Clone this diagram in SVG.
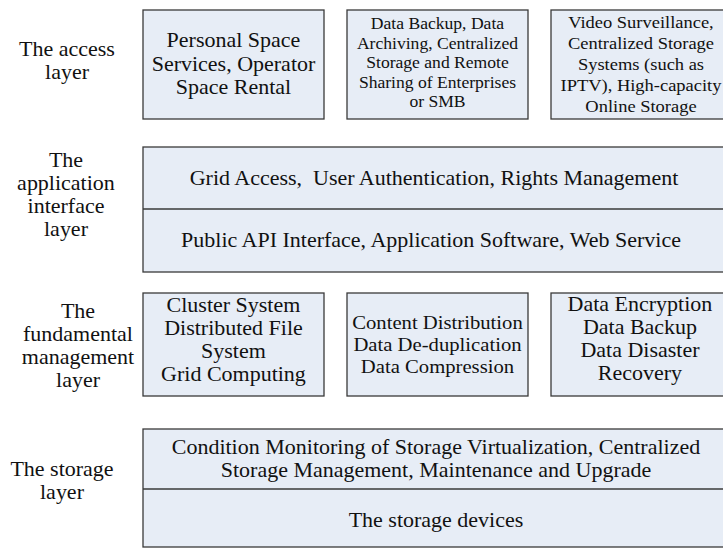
<svg xmlns="http://www.w3.org/2000/svg" width="723" height="548" viewBox="0 0 723 548">
<style>
.box{fill:#e7edf6;stroke:#3a3a3a;stroke-width:1.3}
.div{stroke:#3a3a3a;stroke-width:1.3}
text{font-family:"Liberation Serif","Times New Roman",serif;fill:#111;text-anchor:middle}
.x{transform-box:fill-box;transform-origin:center;transform:scaleX(1.1)}
.t{font-size:20px}
.s{font-size:16px}
.m{font-size:16.8px}
.c{font-size:18.8px}
</style>
<rect width="723" height="548" fill="#fff"/>
<g id="label-access"><text class="t x" x="67" y="56">The access</text><text class="t x" x="67" y="79">layer</text></g>
<g id="access-1"><rect class="box" x="143" y="10" width="181" height="109"/>
<text class="t x" x="233.5" y="47">Personal Space</text><text class="t x" x="233.5" y="71">Services, Operator</text><text class="t x" x="233.5" y="94">Space Rental</text></g>
<g id="access-2"><rect class="box" x="347" y="10" width="181" height="109"/>
<text class="s x" x="437.5" y="29">Data Backup, Data</text><text class="s x" x="437.5" y="49">Archiving, Centralized</text><text class="s x" x="437.5" y="68">Storage and Remote</text><text class="s x" x="437.5" y="88">Sharing of Enterprises</text><text class="s x" x="437.5" y="107">or SMB</text></g>
<g id="access-3"><rect class="box" x="551" y="10" width="180" height="109"/>
<text class="m x" x="641" y="28">Video Surveillance,</text><text class="m x" x="641" y="49">Centralized Storage</text><text class="m x" x="641" y="70">Systems (such as</text><text class="m x" x="641" y="91">IPTV), High-capacity</text><text class="m x" x="641" y="112">Online Storage</text></g>
<g id="label-app"><text class="t x" x="66" y="167">The</text><text class="t x" x="66" y="190">application</text><text class="t x" x="66" y="213">interface</text><text class="t x" x="66" y="236">layer</text></g>
<g id="app"><rect class="box" x="143" y="147" width="588" height="125"/><line class="div" x1="143" y1="209" x2="731" y2="209"/>
<text class="t x" x="434" y="185" xml:space="preserve">Grid Access,  User Authentication, Rights Management</text>
<text class="t x" x="431" y="247">Public API Interface, Application Software, Web Service</text></g>
<g id="label-fund"><text class="t x" x="78" y="318">The</text><text class="t x" x="78" y="341">fundamental</text><text class="t x" x="78" y="364">management</text><text class="t x" x="78" y="387">layer</text></g>
<g id="fund-1"><rect class="box" x="143" y="293" width="181" height="103"/>
<text class="t x" x="233.5" y="312">Cluster System</text><text class="t x" x="233.5" y="335">Distributed File</text><text class="t x" x="233.5" y="358">System</text><text class="t x" x="233.5" y="381">Grid Computing</text></g>
<g id="fund-2"><rect class="box" x="347" y="293" width="181" height="103"/>
<text class="c x" x="437.5" y="329">Content Distribution</text><text class="c x" x="437.5" y="351">Data De-duplication</text><text class="c x" x="437.5" y="373">Data Compression</text></g>
<g id="fund-3"><rect class="box" x="551" y="293" width="180" height="103"/>
<text class="t x" x="640" y="311">Data Encryption</text><text class="t x" x="640" y="334">Data Backup</text><text class="t x" x="640" y="357">Data Disaster</text><text class="t x" x="640" y="380">Recovery</text></g>
<g id="label-storage"><text class="t x" x="62" y="476">The storage</text><text class="t x" x="62" y="499">layer</text></g>
<g id="storage"><rect class="box" x="143" y="429" width="588" height="118"/><line class="div" x1="143" y1="489" x2="731" y2="489"/>
<text class="t x" x="436" y="454">Condition Monitoring of Storage Virtualization, Centralized</text>
<text class="t x" x="436" y="477">Storage Management, Maintenance and Upgrade</text>
<text class="t x" x="436" y="527">The storage devices</text></g>
<g id="connectors"/>
</svg>
